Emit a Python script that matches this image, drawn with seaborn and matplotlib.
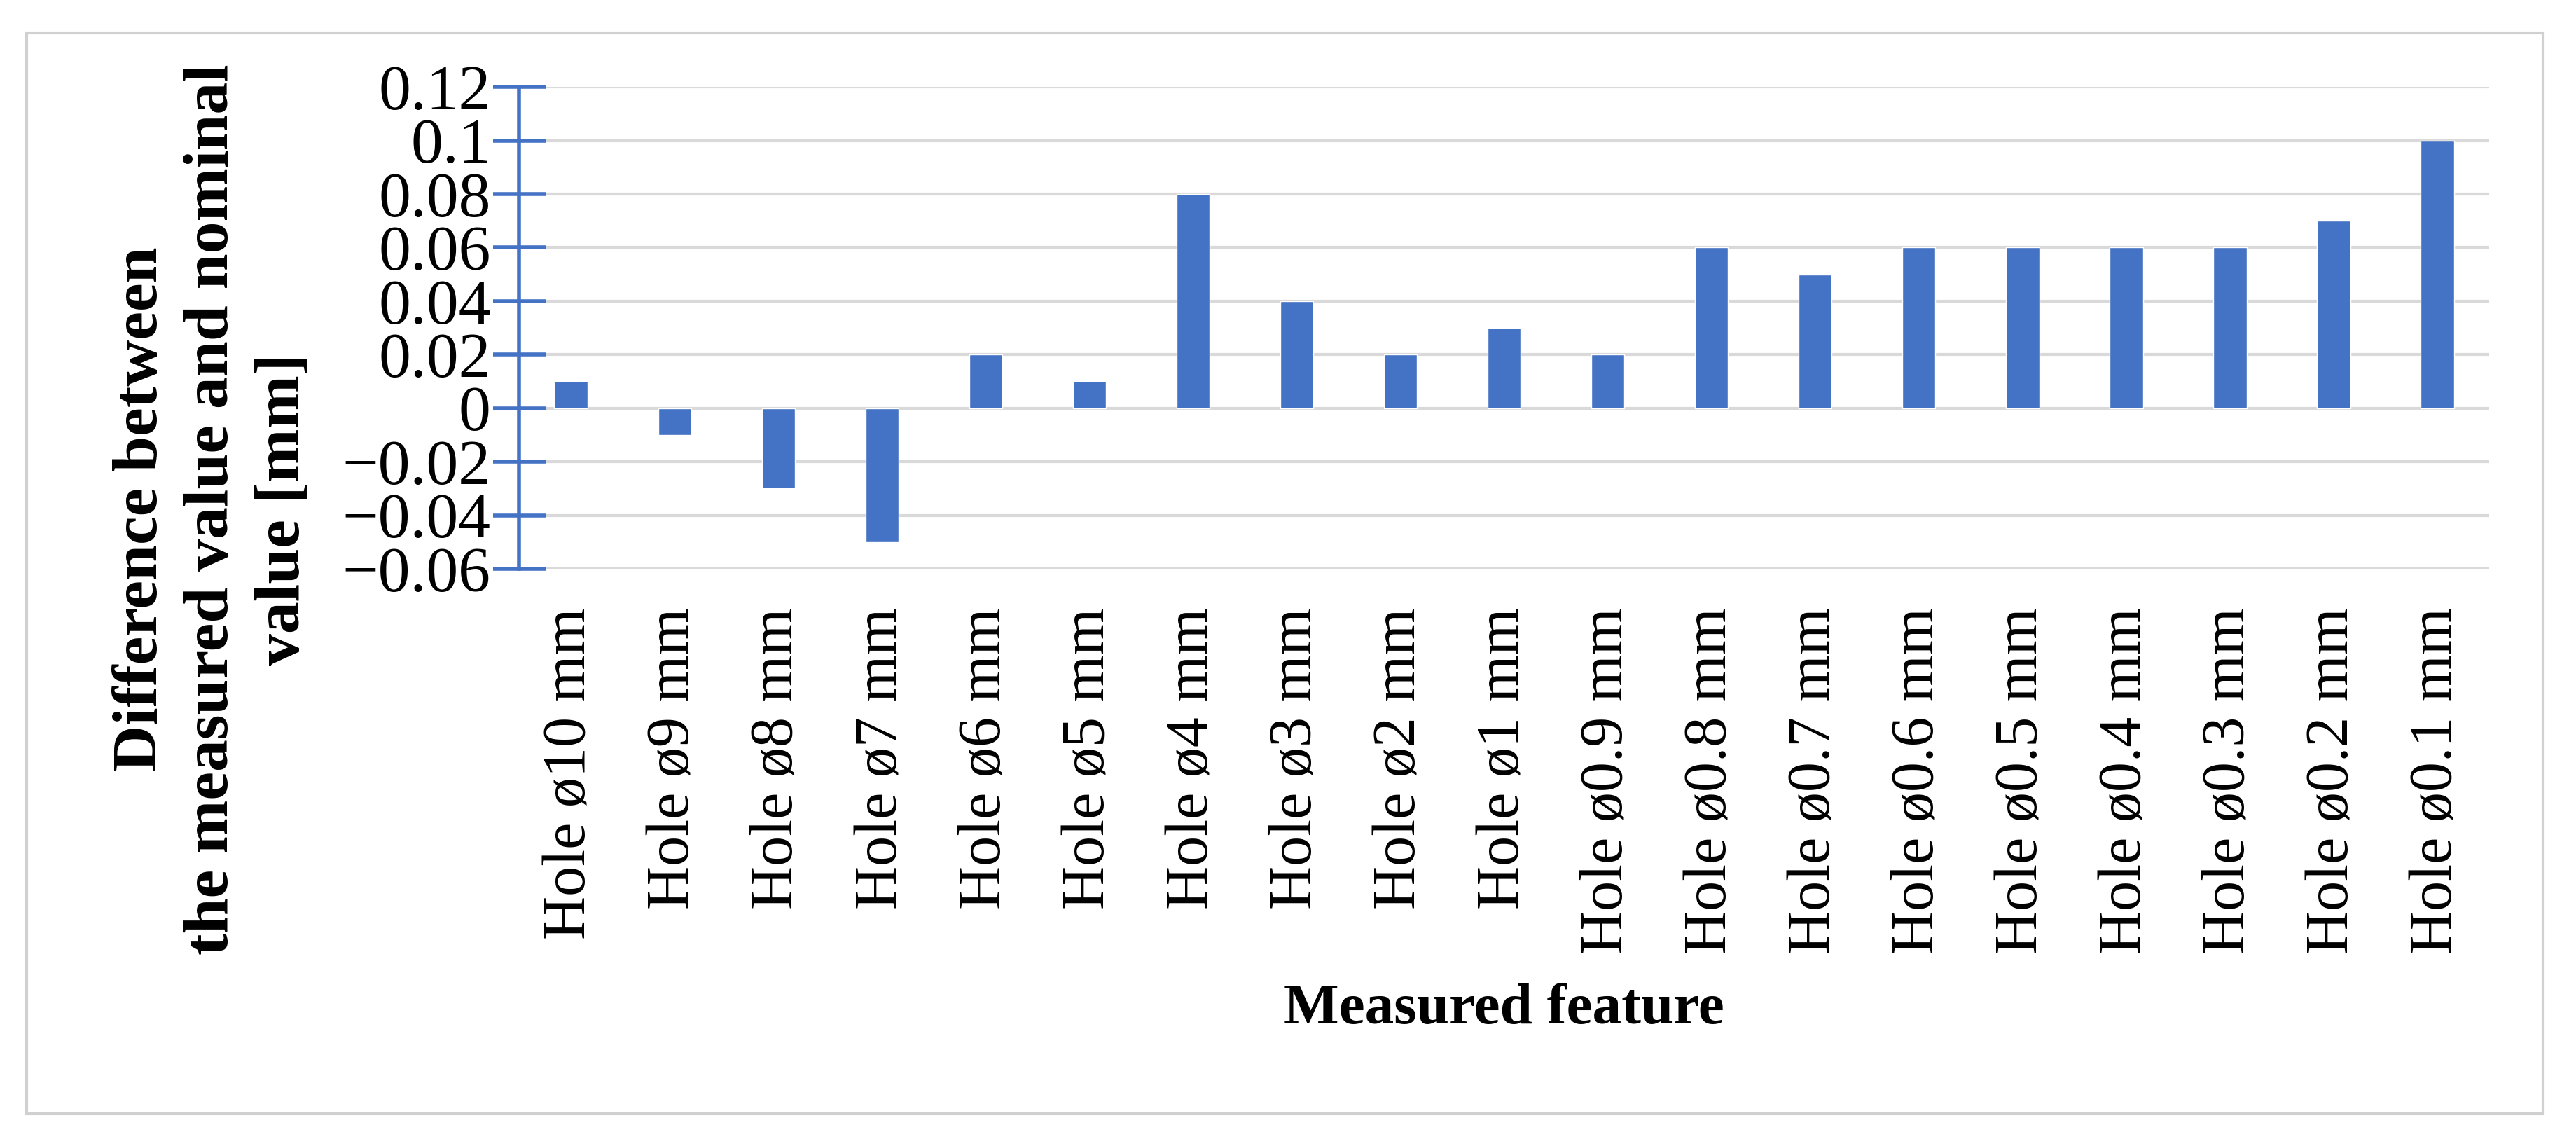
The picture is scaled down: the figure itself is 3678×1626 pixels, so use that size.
import matplotlib
matplotlib.use("Agg")
import matplotlib.pyplot as plt
import seaborn as sns
import pandas as pd
from matplotlib.patches import Rectangle

# ----- Data -----
features = ["Hole ø10 mm", "Hole ø9 mm", "Hole ø8 mm", "Hole ø7 mm", "Hole ø6 mm",
            "Hole ø5 mm", "Hole ø4 mm", "Hole ø3 mm", "Hole ø2 mm", "Hole ø1 mm",
            "Hole ø0.9 mm", "Hole ø0.8 mm", "Hole ø0.7 mm", "Hole ø0.6 mm",
            "Hole ø0.5 mm", "Hole ø0.4 mm", "Hole ø0.3 mm", "Hole ø0.2 mm",
            "Hole ø0.1 mm"]
differences = [0.01, -0.01, -0.03, -0.05, 0.02, 0.01, 0.08, 0.04, 0.02, 0.03,
               0.02, 0.06, 0.05, 0.06, 0.06, 0.06, 0.06, 0.07, 0.10]
ytick_values = [-0.06, -0.04, -0.02, 0, 0.02, 0.04, 0.06, 0.08, 0.1, 0.12]
ytick_labels = ["\u22120.06", "\u22120.04", "\u22120.02", "0", "0.02", "0.04",
                "0.06", "0.08", "0.1", "0.12"]

df = pd.DataFrame({"feature": features, "diff": differences})

sns.set_theme(style="white")
plt.rcParams["font.family"] = ["Liberation Serif", "DejaVu Serif"]
plt.rcParams["text.color"] = "black"
plt.rcParams["axes.labelcolor"] = "black"
plt.rcParams["xtick.color"] = "black"
plt.rcParams["ytick.color"] = "black"

blue = "#4472C4"
grid_grey = "#D9D9D9"

fig = plt.figure(figsize=(36.78, 16.26), dpi=100)
fig.patch.set_facecolor("white")

# outer frame
fig.patches.append(Rectangle((0.0103, 0.0221), 0.9769, 0.949, transform=fig.transFigure,
                             fill=False, edgecolor="#D0D0D0", linewidth=3))

ax = fig.add_axes([0.2015, 0.5006, 0.7648, 0.4231])
sns.barplot(data=df, x="feature", y="diff", color=blue, width=0.32,
            saturation=1, ax=ax, zorder=3)

ax.set_ylim(-0.06, 0.12)
ax.set_yticks(ytick_values)
ax.set_yticklabels(ytick_labels)
ax.yaxis.grid(True, color=grid_grey, linewidth=3, zorder=0)
ax.set_axisbelow(True)

for s in ["top", "right", "bottom"]:
    ax.spines[s].set_visible(False)
ax.spines["left"].set_color(blue)
ax.spines["left"].set_linewidth(4)
ax.spines["left"].set_zorder(4)

ax.tick_params(axis="y", direction="inout", length=54, width=4, color=blue,
               labelcolor="black", labelsize=66, pad=2, left=True)
ax.tick_params(axis="x", length=0, labelsize=62, pad=40, labelrotation=90)

ax.set_xlabel("Measured feature", fontsize=60, fontweight="bold", labelpad=30)
# y label is centred on the whole plot block (bars + category labels), Excel style
ax.set_ylabel("Difference between\nthe measured value and nominal\nvalue [mm]",
              fontsize=66, fontweight="bold", linespacing=1.3, va="center")
ax.yaxis.set_label_coords(-0.1557, 0.1235)

fig.savefig("out.png", dpi=100, facecolor="white")
